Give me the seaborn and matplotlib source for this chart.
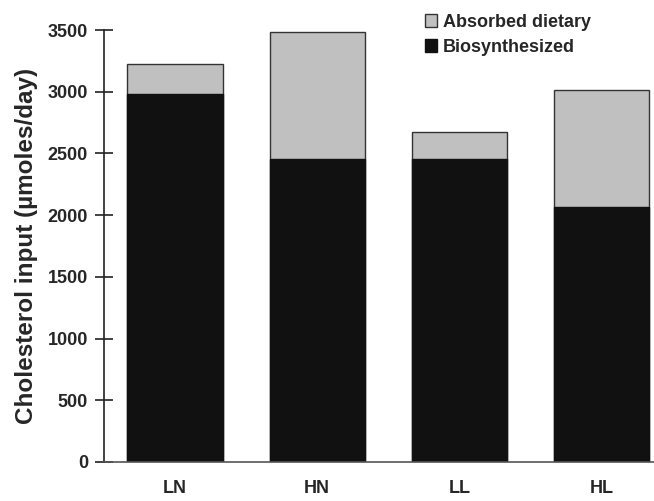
import pandas as pd
import seaborn as sns
import matplotlib.pyplot as plt
from matplotlib.patches import Patch

groups = ['LN', 'HN', 'LL', 'HL']
biosynthesized = [2980, 2455, 2452, 2070]
absorbed = [245, 1030, 218, 945]

df = pd.DataFrame({'group': groups, 'bio': biosynthesized, 'absorbed': absorbed})
df['total'] = df['bio'] + df['absorbed']

sns.set_style('white')
plt.rcParams['font.family'] = ['Liberation Sans', 'DejaVu Sans']
plt.rcParams['font.weight'] = 'bold'

fig = plt.figure(figsize=(6.54, 5.01), dpi=100)
ax = fig.add_axes([0.159, 0.078, 0.841, 0.862])

# total height in grey, biosynthesized part in black on top of it
sns.barplot(data=df, x='group', y='total', color='#c0c0c0', width=0.67,
            edgecolor='#333333', linewidth=1.0, saturation=1, ax=ax)
sns.barplot(data=df, x='group', y='bio', color='#111111', width=0.67,
            edgecolor='#111111', linewidth=1.0, saturation=1, ax=ax)

ax.set_ylim(0, 3500)
ax.set_xlim(-0.5, 3.37)
ax.set_yticks(range(0, 3501, 500))
ax.tick_params(axis='y', left=True, direction='inout', length=13, width=1.2,
               color='#222222', labelsize=13, pad=5)
ax.tick_params(axis='x', bottom=False, length=0, labelsize=13, pad=13)
for lab in ax.get_xticklabels() + ax.get_yticklabels():
    lab.set_fontweight('bold')

ax.set_xlabel('')
ax.set_ylabel('Cholesterol input (µmoles/day)', fontsize=17.5, fontweight='bold', labelpad=7)

sns.despine(ax=ax, top=True, right=True)
ax.spines['left'].set_linewidth(1.2)
ax.spines['bottom'].set_linewidth(1.2)
ax.spines['left'].set_color('#222222')
ax.spines['bottom'].set_color('#555555')

handles = [Patch(facecolor='#c0c0c0', edgecolor='#333333', label='Absorbed dietary'),
           Patch(facecolor='#111111', edgecolor='#111111', label='Biosynthesized')]
leg = ax.legend(handles=handles, loc='upper left', bbox_to_anchor=(0.554, 1.075),
                frameon=False, handlelength=0.65, handleheight=0.75,
                handletextpad=0.35, labelspacing=0.45, prop={'weight': 'bold', 'size': 13})

fig.savefig('out.png', dpi=100)
